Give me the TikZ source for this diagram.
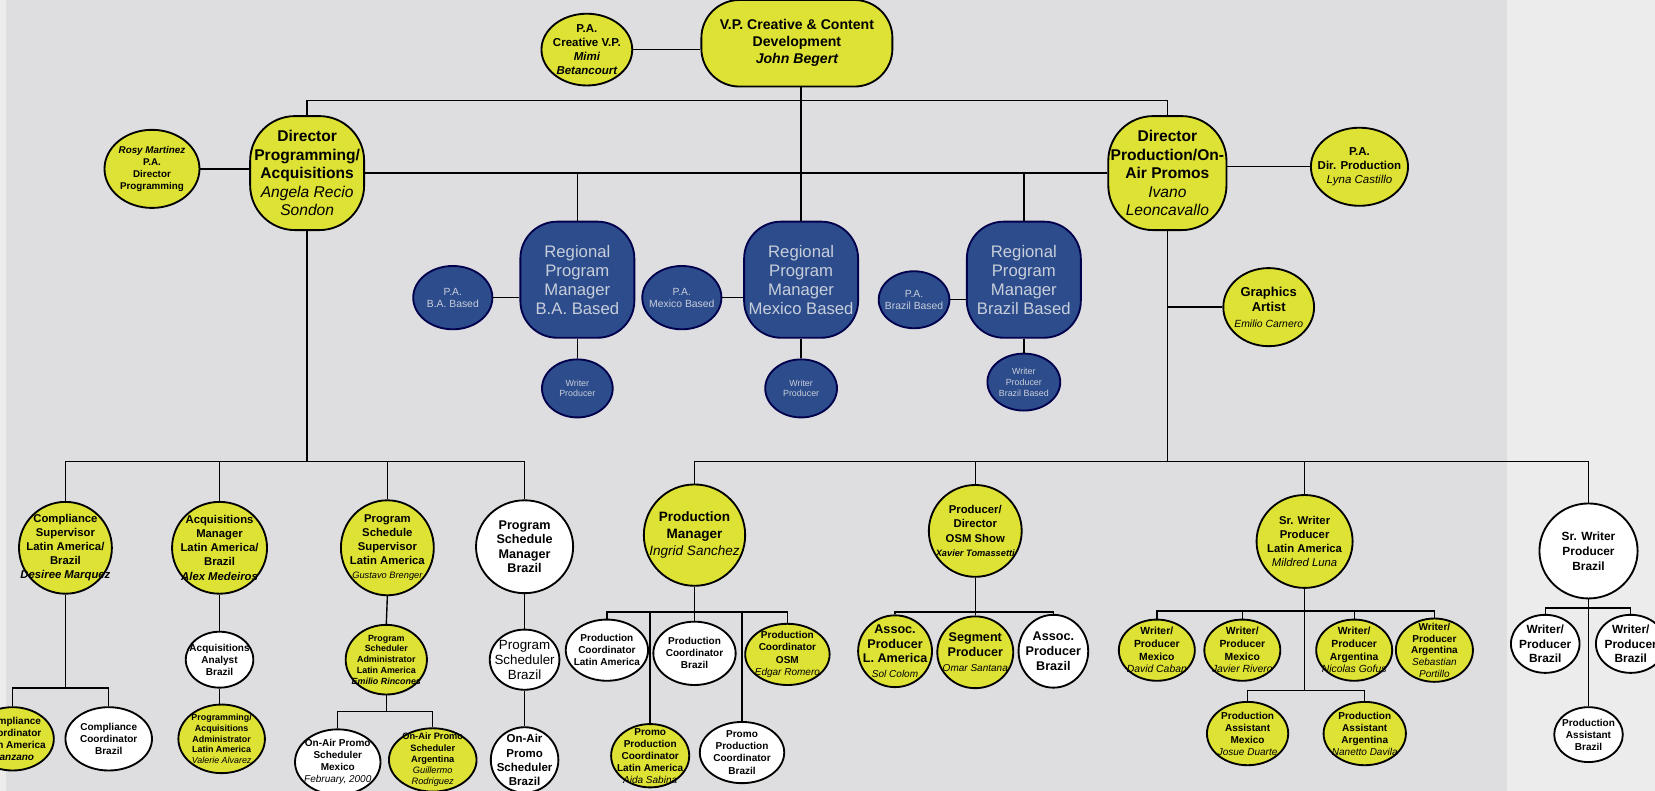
\documentclass[tikz,border=0pt]{standalone}
\usepackage{fontspec}
\setmainfont{Liberation Sans}
\usepackage{xcolor}
\usetikzlibrary{shapes.geometric, positioning, calc}

\definecolor{paper}{RGB}{222,222,224}
\definecolor{paperlight}{RGB}{236,236,237}
\definecolor{chartyellow}{RGB}{222,226,52}
\definecolor{chartblue}{RGB}{44,76,140}
\definecolor{bluetext}{RGB}{200,206,218}

\newcommand{\nm}[1]{{\mdseries\itshape #1}}
\newcommand{\bnm}[1]{{\itshape #1}}
\newcommand{\fsz}[2]{\fontsize{#1}{#2}\selectfont}

\begin{document}
\begin{tikzpicture}[
    x=0.02cm, y=-0.02cm,
    wh/.style 2 args={minimum width=#1*0.02cm, minimum height=#2*0.02cm},
    ovalbase/.style={ellipse, draw=black, line width=1pt, inner sep=-20pt, align=center},
    yoval/.style={ovalbase, fill=chartyellow},
    woval/.style={ovalbase, fill=white},
    boval/.style={ovalbase, fill=chartblue, draw=black!70!blue, text=bluetext},
    ybox/.style={draw=black, line width=1pt, fill=chartyellow, rounded corners=0.8cm, inner sep=0pt, align=center},
    bbox/.style={draw=black!70!blue, line width=1pt, fill=chartblue, rounded corners=0.7cm, inner sep=0pt, align=center, text=bluetext},
    link/.style={draw=black, line width=0.75pt},
    ttop/.style={font=\bfseries\fsz{7.6}{9.2}},
    tdir/.style={font=\bfseries\fsz{8.4}{10}},
    treg/.style={font=\fsz{9}{10.2}},
    tpa/.style={font=\bfseries\fsz{6.2}{7.6}},
    tmid/.style={font=\bfseries\fsz{6.1}{7.6}},
    tmidl/.style={font=\bfseries\fsz{6.8}{7.9}},
    tsm/.style={font=\bfseries\fsz{5.4}{6.5}},
    txs/.style={font=\bfseries\fsz{4.8}{5.8}}
]

\useasboundingbox (0,0) rectangle (1568,749);
\clip (0,0) rectangle (1568,749);

% === PAPER ===
\fill[paper] (0,0) rectangle (1568,749);
\fill[paperlight] (1428,0) rectangle (1568,749);
\fill[paperlight] (0,0) rectangle (6,749);

% === TOP LEVEL ===
\node[ybox, ttop, wh={181}{82}, rounded corners=0.72cm] (vp) at (755,41) {V.P. Creative \& Content\\Development\\\bnm{John Begert}};
\node[yoval, tpa, wh={86}{68}] (pavp) at (556,47) {P.A.\\Creative V.P.\\\bnm{Mimi}\\\bnm{Betancourt}};

\node[ybox, tdir, wh={108}{108}, rounded corners=0.85cm] (dirprog) at (291,164) {Director\\Programming/\\Acquisitions\\\nm{Angela Recio}\\\nm{Sondon}};
\node[yoval, font=\bfseries\fsz{5.3}{6.6}, wh={90}{74}] (parosy) at (144,160) {\bnm{Rosy Martinez}\\P.A.\\Director\\Programming};

\node[ybox, tdir, wh={112}{108}, rounded corners=0.85cm] (dirprod) at (1106,164) {Director\\Production/On-\\Air Promos\\\nm{Ivano}\\\nm{Leoncavallo}};
\node[yoval, tpa, wh={92}{74}] (padprod) at (1288,158) {P.A.\\Dir. Production\\\nm{Lyna Castillo}};
\node[yoval, font=\bfseries\fsz{7}{8.2}, wh={86}{74}] (graphics) at (1202,291) {Graphics\\Artist\\{\fsz{5.6}{6.6}\nm{Emilio Carnero}}};

% === REGIONAL MANAGERS ===
\node[bbox, treg, wh={108}{110}] (rpmba) at (547,265) {Regional\\Program\\Manager\\B.A. Based};
\node[bbox, treg, wh={108}{110}] (rpmmx) at (759,265) {Regional\\Program\\Manager\\Mexico Based};
\node[bbox, treg, wh={108}{110}] (rpmbr) at (970,265) {Regional\\Program\\Manager\\Brazil Based};

\node[boval, font=\fsz{5.6}{6.6}, wh={75}{60}] (paba) at (429,282) {P.A.\\B.A. Based};
\node[boval, font=\fsz{5.6}{6.6}, wh={75}{60}] (pamex) at (646,282) {P.A.\\Mexico Based};
\node[boval, font=\fsz{5.6}{6.6}, wh={67}{54}] (pabra) at (866,284) {P.A.\\Brazil Based};

\node[boval, font=\fsz{4.8}{5.8}, wh={67}{55}] (wba) at (547,368) {Writer\\Producer};
\node[boval, font=\fsz{4.8}{5.8}, wh={68}{55}] (wmx) at (759,368) {Writer\\Producer};
\node[boval, font=\fsz{4.8}{5.8}, wh={69}{54}] (wbr) at (970,362) {Writer\\Producer\\Brazil Based};

% === PROGRAMMING BRANCH ===
\node[yoval, tmid, wh={88}{87}] (comp) at (62,519) {Compliance\\Supervisor\\Latin America/\\Brazil\\\bnm{Desiree Marquez}};
\node[yoval, tmid, wh={90}{87}] (acqmgr) at (208,519) {Acquisitions\\Manager\\Latin America/\\Brazil\\\bnm{Alex Medeiros}};
\node[yoval, tmid, wh={88}{90}] (pss) at (367,519) {Program\\Schedule\\Supervisor\\Latin America\\{\fsz{5}{6}\nm{Gustavo Brenger}}};
\node[woval, tmidl, wh={92}{88}] (psm) at (497,518) {Program\\Schedule\\Manager\\Brazil};

\node[yoval, tsm, wh={78}{60}] (compla) at (12,700) {Compliance\\Coordinator\\Latin America\\\bnm{Manzano}};
\node[woval, tsm, wh={82}{60}] (compbr) at (103,700) {Compliance\\Coordinator\\Brazil};
\node[woval, tsm, wh={64}{53}] (acqan) at (208,625) {Acquisitions\\Analyst\\Brazil};
\node[yoval, txs, wh={82}{65}] (progacq) at (210,700) {Programming/\\Acquisitions\\Administrator\\Latin America\\\nm{Valerie Alvarez}};
\node[yoval, txs, wh={77}{66}] (psa) at (366,625) {Program\\Scheduler\\Administrator\\Latin America\\\bnm{Emilio Rincones}};
\node[woval, tsm, wh={81}{62}] (oapsmx) at (320,722) {On-Air Promo\\Scheduler\\Mexico\\\nm{February, 2000}};
\node[yoval, font=\bfseries\fsz{5}{6.1}, wh={83}{60}] (oapsar) at (410,720) {On-Air Promo\\Scheduler\\Argentina\\\nm{Guillermo}\\\nm{Rodriguez}};
\node[woval, font=\fsz{7.2}{8.2}, wh={66}{57}] (psb) at (497,625) {Program\\Scheduler\\Brazil};
\node[woval, font=\bfseries\fsz{6.2}{7.6}, wh={64}{62}] (oapsb) at (497,720) {On-Air\\Promo\\Scheduler\\Brazil};

% === PRODUCTION BRANCH ===
\node[yoval, font=\bfseries\fsz{7.3}{9.2}, wh={96}{96}] (pm) at (658,507) {Production\\Manager\\\nm{Ingrid Sanchez}};
\node[woval, tsm, wh={78}{58}] (pcla) at (575,616) {Production\\Coordinator\\Latin America};
\node[woval, tsm, wh={78}{60}] (pcbr) at (658,619) {Production\\Coordinator\\Brazil};
\node[yoval, tsm, wh={80}{58}] (pcosm) at (746,620) {Production\\Coordinator\\OSM\\\nm{Edgar Romero}};
\node[yoval, tsm, wh={74}{60}] (ppcla) at (616,716) {Promo\\Production\\Coordinator\\Latin America\\\nm{Aida Sabina}};
\node[woval, tsm, wh={80}{58}] (ppcbr) at (703,713) {Promo\\Production\\Coordinator\\Brazil};

\node[yoval, tmid, wh={88}{87}] (pdosm) at (924,503) {Producer/\\Director\\OSM Show\\{\fsz{5}{6}\bnm{Xavier Tomassetti}}};
\node[yoval, tmidl, wh={70}{68}] (aprla) at (848,617) {Assoc.\\Producer\\L. America\\{\fsz{5.4}{6.4}\nm{Sol Colom}}};
\node[yoval, tmidl, wh={72}{68}] (segp) at (924,618) {Segment\\Producer\\{\fsz{5.4}{6.4}\nm{Omar Santana}}};
\node[woval, tmidl, wh={66}{69}] (aprbr) at (998,617) {Assoc.\\Producer\\Brazil};

\node[yoval, tmid, wh={91}{88}] (srwla) at (1236,513) {Sr. Writer\\Producer\\Latin America\\\nm{Mildred Luna}};
\node[yoval, font=\bfseries\fsz{5.6}{6.8}, wh={72}{58}] (wpmx1) at (1096,616) {Writer/\\Producer\\Mexico\\\nm{David Caban}};
\node[yoval, font=\bfseries\fsz{5.6}{6.8}, wh={72}{58}] (wpmx2) at (1177,616) {Writer/\\Producer\\Mexico\\\nm{Javier Rivero}};
\node[yoval, font=\bfseries\fsz{5.6}{6.8}, wh={72}{58}] (wpar1) at (1283,616) {Writer/\\Producer\\Argentina\\\nm{Nicolas Gofus}};
\node[yoval, font=\bfseries\fsz{5.4}{6.3}, wh={73}{60}] (wpar2) at (1359,616) {Writer/\\Producer\\Argentina\\\nm{Sebastian}\\\nm{Portillo}};
\node[yoval, tsm, wh={77}{60}] (asstmx) at (1182,695) {Production\\Assistant\\Mexico\\\nm{Josue Duarte}};
\node[yoval, tsm, wh={78}{60}] (asstar) at (1293,695) {Production\\Assistant\\Argentina\\\nm{Nanetto Davila}};

\node[woval, font=\bfseries\fsz{6.4}{8}, wh={93}{90}] (srwbr) at (1505,522) {Sr. Writer\\Producer\\Brazil};
\node[woval, font=\bfseries\fsz{6.4}{8}, wh={65}{55}] (wpbr1) at (1464,610) {Writer/\\Producer\\Brazil};
\node[woval, font=\bfseries\fsz{6.4}{8}, wh={66}{55}] (wpbr2) at (1545,610) {Writer/\\Producer\\Brazil};
\node[woval, tsm, wh={65}{52}] (asstbr) at (1505,696) {Production\\Assistant\\Brazil};

% === CONNECTORS: TOP ===
\coordinate (topbar) at (759,95);
\draw[link] (dirprog.north) |- (topbar) -| (dirprod.north);
\draw[link] (rpmmx.north) -- (rpmmx.north |- vp.south);
\draw[link] (pavp.east) -- (pavp.east -| vp.west);
\draw[link] (dirprog.east) -- (dirprod.west);
\draw[link] (rpmba.north) -- (rpmba.north |- dirprog.east);
\draw[link] (rpmbr.north) -- (rpmbr.north |- dirprog.east);
\draw[link] (parosy.east) -- (parosy.east -| dirprog.west);
\draw[link] (padprod.west) -- (padprod.west -| dirprod.east);

% === CONNECTORS: REGIONAL ===
\draw[link] (paba.east) -- (paba.east -| rpmba.west);
\draw[link] (pamex.east) -- (pamex.east -| rpmmx.west);
\draw[link] (pabra.east) -- (pabra.east -| rpmbr.west);
\draw[link] (rpmba.south) -- (wba.north);
\draw[link] (rpmmx.south) -- (wmx.north);
\draw[link] (rpmbr.south) -- (wbr.north);

% === CONNECTORS: PROGRAMMING ===
\coordinate (lbar) at (291,437);
\draw[link] (dirprog.south) -- (lbar);
\draw[link] (comp.north) |- (lbar) -| (psm.north);
\draw[link] (acqmgr.north) -- (acqmgr.north |- lbar);
\draw[link] (pss.north) -- (pss.north |- lbar);

\coordinate (compbar) at (62,652);
\draw[link] (comp.south) -- (compbar);
\draw[link] (compla.north) |- (compbar) -| (compbr.north);
\draw[link] (acqmgr.south) -- (acqan.north);
\draw[link] (acqan.south) -- (acqan.south |- progacq.north);
\draw[link] (pss.south) -- (psa.north);
\coordinate (psabar) at (366,674);
\draw[link] (psa.south) -- (psabar);
\draw[link] (oapsmx.north) |- (psabar) -| (oapsar.north);
\draw[link] (psm.south) -- (psb.north);
\draw[link] (psb.south) -- (oapsb.north);

% === CONNECTORS: PRODUCTION ===
\coordinate (rbar) at (1106,437);
\draw[link] (dirprod.south) -- (rbar);
\draw[link] (graphics.west) -- (graphics.west -| dirprod.south);
\draw[link] (pm.north) |- (rbar) -| (srwbr.north);
\draw[link] (pdosm.north) -- (pdosm.north |- rbar);
\draw[link] (srwla.north) -- (srwla.north |- rbar);

\coordinate (pmbar) at (658,580);
\draw[link] (pm.south) -- (pcbr.north);
\draw[link] (pcla.north) |- (pmbar) -| (pcosm.north);
\draw[link] (ppcla.north) -- (ppcla.north |- pmbar);
\draw[link] (ppcbr.north) -- (ppcbr.north |- pmbar);

\coordinate (pdbar) at (924,580);
\draw[link] (pdosm.south) -- (segp.north);
\draw[link] (aprla.north) |- (pdbar) -| (aprbr.north);

\coordinate (swbar) at (1236,579);
\coordinate (swbartwo) at (1236,654);
\draw[link] (srwla.south) -- (swbartwo);
\draw[link] (wpmx1.north) |- (swbar) -| (wpar2.north);
\draw[link] (wpmx2.north) -- (wpmx2.north |- swbar);
\draw[link] (wpar1.north) -- (wpar1.north |- swbar);
\draw[link] (asstmx.north) |- (swbartwo) -| (asstar.north);

\coordinate (sbbar) at (1505,576);
\draw[link] (srwbr.south) -- (asstbr.north);
\draw[link] (wpbr1.north) |- (sbbar) -| (wpbr2.north);

\end{tikzpicture}
\end{document}
